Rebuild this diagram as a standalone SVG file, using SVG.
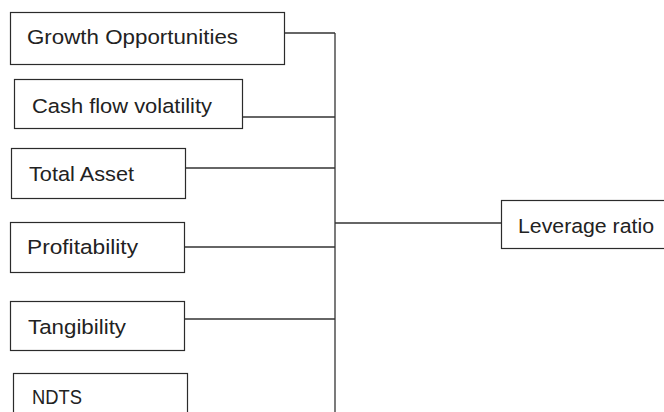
<svg xmlns="http://www.w3.org/2000/svg" width="664" height="412" viewBox="0 0 664 412">
<style>
.box{fill:#fff;stroke:#2b2b2b;stroke-width:1.2}
.lbl{font-family:"Liberation Sans",Arial,sans-serif;font-size:20.5px;fill:#222}
.con{fill:none;stroke:#333;stroke-width:1.3}
</style>
<rect width="664" height="412" fill="#fff"/>
<g id="connectors">
<line class="con" x1="335" y1="33" x2="335" y2="412"/>
<line class="con" x1="284" y1="33" x2="335" y2="33"/>
<line class="con" x1="242" y1="117" x2="335" y2="117"/>
<line class="con" x1="185" y1="168" x2="335" y2="168"/>
<line class="con" x1="184" y1="247" x2="335" y2="247"/>
<line class="con" x1="184" y1="319" x2="335" y2="319"/>
<line class="con" x1="335" y1="223" x2="501" y2="223"/>
</g>
<g id="growth"><rect class="box" x="10.5" y="12.5" width="274" height="52"/><text class="lbl" x="27" y="43.5" textLength="211" lengthAdjust="spacingAndGlyphs">Growth Opportunities</text></g>
<g id="cashflow"><rect class="box" x="14.5" y="79.5" width="228" height="49"/><text class="lbl" x="32" y="112.5" textLength="180" lengthAdjust="spacingAndGlyphs">Cash flow volatility</text></g>
<g id="totalasset"><rect class="box" x="11.5" y="148.5" width="174" height="50"/><text class="lbl" x="29" y="180.5" textLength="105" lengthAdjust="spacingAndGlyphs">Total Asset</text></g>
<g id="profitability"><rect class="box" x="10.5" y="222.5" width="174" height="50"/><text class="lbl" x="27" y="253.5" textLength="111" lengthAdjust="spacingAndGlyphs">Profitability</text></g>
<g id="tangibility"><rect class="box" x="10.5" y="301.5" width="174" height="49"/><text class="lbl" x="28" y="333.5" textLength="98" lengthAdjust="spacingAndGlyphs">Tangibility</text></g>
<g id="ndts"><rect class="box" x="13.5" y="373.5" width="174" height="50"/><text class="lbl" x="32" y="403.5" textLength="50" lengthAdjust="spacingAndGlyphs">NDTS</text></g>
<g id="leverage"><rect class="box" x="501.5" y="200.5" width="170" height="48"/><text class="lbl" x="518" y="232.5" textLength="136" lengthAdjust="spacingAndGlyphs">Leverage ratio</text></g>
</svg>
